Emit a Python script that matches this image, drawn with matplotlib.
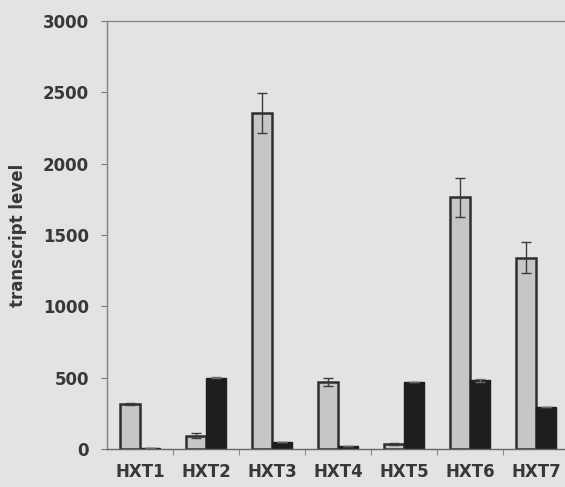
import numpy as np
import matplotlib
matplotlib.use('Agg')
import matplotlib.pyplot as plt
from matplotlib.ticker import FixedLocator

GENES = ['HXT1', 'HXT2', 'HXT3', 'HXT4', 'HXT5', 'HXT6', 'HXT7']
GRAY_VALUES = [315, 93, 2355, 470, 35, 1764, 1341]
GRAY_ERR = [8, 18, 140, 30, 5, 135, 110]
BLACK_VALUES = [8, 500, 50, 20, 472, 481, 294]
BLACK_ERR = [0, 4, 0, 0, 0, 10, 0]

BG = '#e3e3e3'
TEXT = '#383838'

plt.rcParams['font.family'] = ['DejaVu Sans']
plt.rcParams['font.weight'] = 'bold'

fig = plt.figure(figsize=(5.65, 4.87), dpi=100, facecolor=BG)
ax = fig.add_axes([107 / 565, 38 / 487, 1 - 107 / 565, 428 / 487], facecolor=BG)

x = np.arange(len(GENES))
width = 0.3
ax.bar(x - width / 2, GRAY_VALUES, width, color='#c6c6c6', edgecolor='#2e2e2e', linewidth=1.8, zorder=2)
ax.bar(x + width / 2, BLACK_VALUES, width, color='#1e1e1e', edgecolor='#1e1e1e', linewidth=1.0, zorder=2)
ax.errorbar(x - width / 2, GRAY_VALUES, yerr=GRAY_ERR, fmt='none', ecolor='#3c3c3c',
            elinewidth=1.0, capsize=3.6, capthick=1.0, zorder=3)
ax.errorbar(x + width / 2, BLACK_VALUES, yerr=BLACK_ERR, fmt='none', ecolor='#6a6a6a',
            elinewidth=1.0, capsize=3.6, capthick=1.0, zorder=3)

ax.set_ylim(0, 3000)
ax.set_xlim(-0.5, (565 - 107) / 66 - 0.5)
ax.set_yticks(np.arange(0, 3001, 500))
ax.set_xticks(x)
ax.set_xticklabels(GENES)
ax.xaxis.set_minor_locator(FixedLocator(x[:-1] + 0.5))

ax.tick_params(axis='y', length=4, width=0.8, color='#7a7a7a', pad=9, labelsize=12, labelcolor=TEXT)
ax.tick_params(axis='x', which='major', length=0, pad=10, labelsize=12, labelcolor=TEXT)
ax.tick_params(axis='x', which='minor', length=4, width=0.8, color='#8a8a8a')
for lbl in ax.get_xticklabels() + ax.get_yticklabels():
    lbl.set_fontweight('bold')

ax.set_ylabel('transcript level', fontsize=12, fontweight='bold', color=TEXT)
ax.yaxis.set_label_coords(-80 / 458, 0.5)

ax.spines['right'].set_visible(False)
ax.spines['left'].set_color('#808080')
ax.spines['top'].set_color('#8a8a8a')
ax.spines['bottom'].set_color('#666666')
for s in ('left', 'top', 'bottom'):
    ax.spines[s].set_linewidth(1.0)

fig.savefig('out.png', dpi=100, facecolor=BG)
